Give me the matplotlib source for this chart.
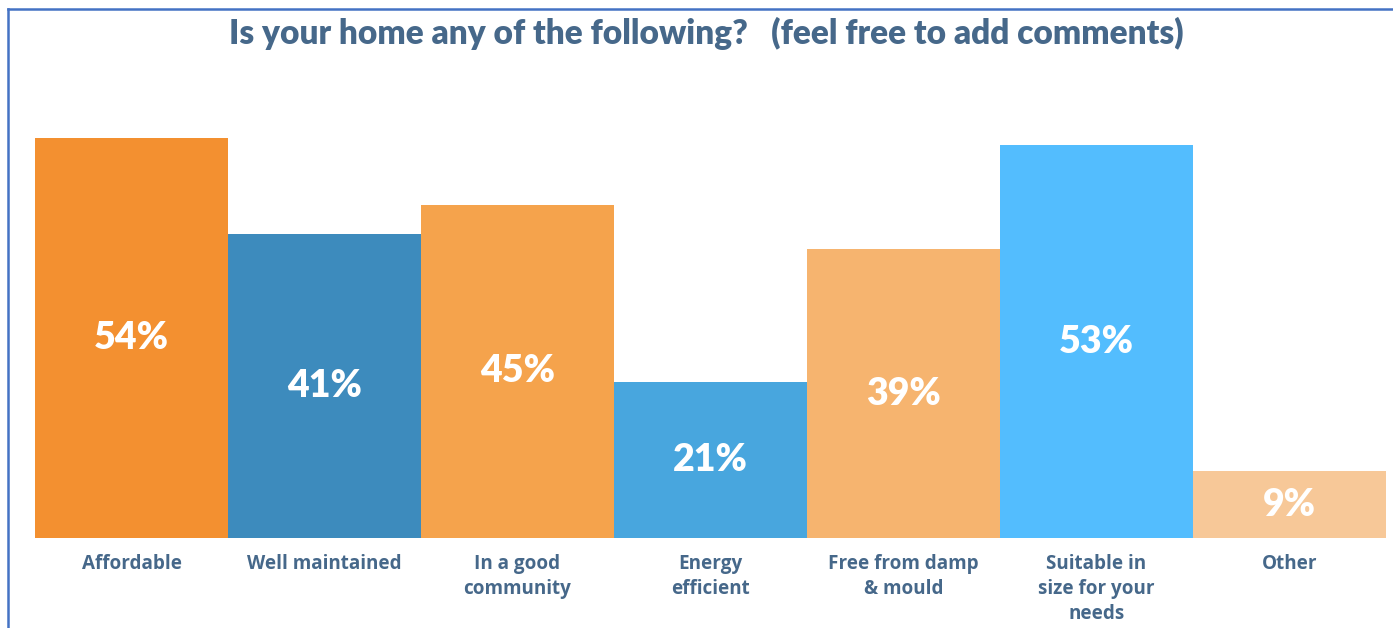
import matplotlib
matplotlib.use("Agg")
import matplotlib.pyplot as plt

categories = ["Affordable", "Well maintained", "In a good\ncommunity", "Energy\nefficient",
              "Free from damp\n& mould", "Suitable in\nsize for your\nneeds", "Other"]
values = [54, 41, 45, 21, 39, 53, 9]
colors = ["#F39030", "#3D8BBD", "#F5A34C", "#48A6DE", "#F6B46F", "#53BDFE", "#F7C898"]
title = "Is your home any of the following?   (feel free to add comments)"

W, H = 1393, 628
fig = plt.figure(figsize=(W / 100, H / 100), dpi=100)
fig.patch.set_facecolor("white")

text_color = "#46688A"

# plot area: baseline at y=538 px, bars from x=35 to x=1386
left, right, base = 35, 1386, 538
ymax = 60
px_per_unit = 400 / 54
ax_h = ymax * px_per_unit
ax = fig.add_axes([left / W, 1 - base / H, (right - left) / W, ax_h / H])
ax.set_xlim(-0.5, len(values) - 0.5)
ax.set_ylim(0, ymax)
ax.axis("off")

x = range(len(values))
ax.bar(x, values, width=1.0, color=colors, edgecolor="none")

for xi, v in zip(x, values):
    ax.text(xi, v / 2, f"{v}%", ha="center", va="center", color="white",
            fontsize=27, fontweight="heavy", family=["Lato", "DejaVu Sans"])

for xi, c in zip(x, categories):
    ax.text(xi, -2.1, c, ha="center", va="top", color=text_color, fontsize=13.6,
            fontweight="bold", family=["Open Sans", "DejaVu Sans"], linespacing=1.36)

fig.text(706 / W, 1 - 33 / H, title, ha="center", va="center", color=text_color,
         fontsize=24, fontweight="heavy", family=["Lato", "DejaVu Sans"])

# frame lines at the top and left edges
frame_color = "#4472C4"
fig.add_artist(plt.Line2D([8 / W, 8 / W], [0, 1 - 9 / H], color=frame_color, lw=1.8,
                          transform=fig.transFigure))
fig.add_artist(plt.Line2D([8 / W, 1], [1 - 9 / H, 1 - 9 / H], color=frame_color, lw=1.8,
                          transform=fig.transFigure))

fig.savefig("out.png", dpi=100, facecolor="white")
